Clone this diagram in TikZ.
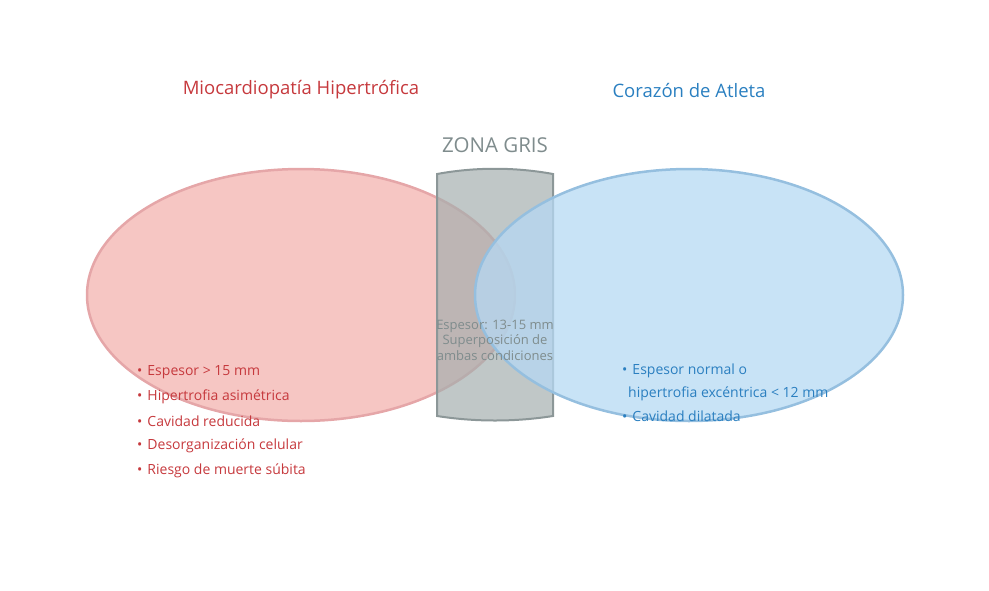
\documentclass[tikz,border=0pt]{standalone}
\usepackage{fontspec}
\setmainfont{Open Sans}
\begin{document}
\begin{tikzpicture}[x=1pt,y=-1pt,
  lbl/.style={anchor=west,font=\fontsize{14}{16}\selectfont,inner sep=0},
  ttl/.style={font=\fontsize{18.5}{22}\selectfont,inner sep=0}]
\definecolor{rd}{HTML}{C6393D}\definecolor{bl}{HTML}{2A7FC0}\definecolor{gr}{HTML}{7F8C8D}
\definecolor{rf}{HTML}{F6C6C3}\definecolor{bf}{HTML}{B6D9F3}
\useasboundingbox (0,0) rectangle (989,590);
\draw[line width=2.5pt,draw=rd!45,fill=rf] (301,295) ellipse [x radius=214,y radius=126];
\draw[line width=2pt,draw=gr!90,fill=gr!70!white,fill opacity=0.7] (437,174) .. controls (475,167) and (515,167) .. (553,174) -- (553,416) .. controls (515,422) and (475,422) .. (437,416) -- cycle;
\draw[line width=2.5pt,draw=bl!50,fill=bf,fill opacity=0.75] (689,295) ellipse [x radius=214,y radius=126];
\node[ttl,text=rd] (t1) at (301,90) {Miocardiopatía Hipertrófica};
\node[ttl,text=bl] (t2) at (689,90) {Corazón de Atleta};
\node[ttl,text=gr,font=\fontsize{20.5}{24}\selectfont] (t3) at (495,145) {ZONA GRIS};
\node[text=gr,align=center,font=\fontsize{13}{15.5}\selectfont,inner sep=0] (c) at (495,340) {Espesor: 13-15 mm\\Superposición de\\ambas condiciones};
\foreach \t [count=\i] in {Espesor > 15 mm,Hipertrofia asimétrica,Cavidad reducida,Desorganización celular,Riesgo de muerte súbita}
  \node[lbl,text=rd] (l\i) at (137,{347+24.8*\i}) {•\hspace{5pt}\t};
\node[lbl,text=bl] (r1) at (622,371) {•\hspace{5pt}Espesor normal o};
\node[lbl,text=bl] (r2) at (628,394) {hipertrofia excéntrica < 12 mm};
\node[lbl,text=bl] (r3) at (622,416) {•\hspace{5pt}Cavidad dilatada};
\end{tikzpicture}
\end{document}
